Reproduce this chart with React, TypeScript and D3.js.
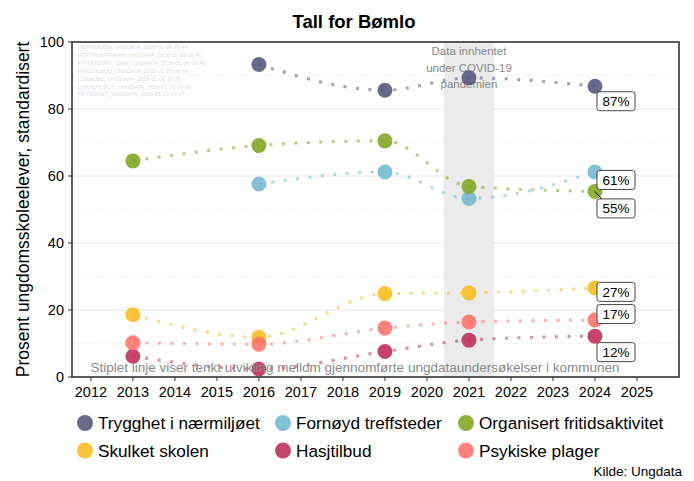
import React from 'react';
import * as d3 from 'd3';

// data
const years = [2013, 2016, 2019, 2021, 2024];
const seriesNames = [
  'Trygghet i nærmiljøet',
  'Fornøyd treffsteder',
  'Organisert fritidsaktivitet',
  'Skulket skolen',
  'Hasjtilbud',
  'Psykiske plager',
];
const trygghet = [null, 93.3, 85.6, 89.3, 86.8];
const fornoyd = [null, 57.6, 61.2, 53.3, 61.2];
const organisert = [64.5, 69.1, 70.5, 56.9, 55.4];
const skulket = [18.6, 11.9, 24.9, 25.1, 26.6];
const hasj = [6.2, 2.4, 7.6, 11.0, 12.2];
const psykiske = [10.2, 9.8, 14.6, 16.4, 17.0];
const seriesColors = ['#545479', '#74b7cf', '#7fa51f', '#f9bc1d', '#bd2c58', '#ff716a'];
const yTicks = [0, 20, 40, 60, 80, 100];
const xTicks = d3.range(2012, 2026);
const watermark = [
  'DEPRESJON_UNGDATA_2026-01-06-16-44',
  'FORTROLIGVENN_UNGDATA_2026-01-06-16-46',
  'FRITIDSORG_10aar_UNGDATA_2026-01-06-16-46',
  'HASJTILBUD_UNGDATA_2026-01-20-09-59',
  'LOKALMIL_UNGDATA_2026-01-06-16-50',
  'LOKALTILBUD_UNGDATA_2026-01-20-10-00',
  'TRYGGHET_UNGDATA_2026-01-20-10-07',
];
const covidBand = [2020.4, 2021.6];

// label nudges (px) for end labels, ggrepel-ish
const labelNudge = [15, 8, 17, 4, 16, -6];

const W = 694;
const H = 481;
const font = '"Liberation Sans", Arial, sans-serif';

const App = () => {
  const x = d3.scaleLinear().domain([2011.55, 2026]).range([72, 679]);
  const y = d3.scaleLinear().domain([0, 100]).range([377, 42]);

  const allSeries = [trygghet, fornoyd, organisert, skulket, hasj, psykiske];

  const line = d3.line<[number, number]>()
    .x(d => x(d[0]))
    .y(d => y(d[1]))
    .curve(d3.curveMonotoneX);

  const legendCols = [85, 283, 466];
  const legendRows = [423, 450.5];

  return (
    <svg width={W} height={H} style={{ position: 'absolute', left: 0, top: 0, fontFamily: font }}>
      <rect width={W} height={H} fill="#fff" />
      <text x={354} y={27.5} textAnchor="middle" fontSize={18.5} fontWeight="bold" fill="#000">Tall for Bømlo</text>

      {/* grid */}
      {d3.range(10, 100, 20).map(v => (
        <line key={'m' + v} x1={72} x2={679} y1={y(v)} y2={y(v)} stroke="#ececec" strokeWidth={0.7} strokeDasharray="2 1" />
      ))}
      {yTicks.slice(1, -1).map(v => (
        <line key={'g' + v} x1={72} x2={679} y1={y(v)} y2={y(v)} stroke="#e6e6e6" strokeWidth={1} />
      ))}

      {/* covid band */}
      <rect x={x(covidBand[0])} y={42} width={x(covidBand[1]) - x(covidBand[0])} height={335} fill="#ebebeb" />
      {['Data innhentet', 'under COVID-19', 'pandemien'].map((t, i) => (
        <text key={t} x={x(2021)} y={55 + i * 16.5} textAnchor="middle" fontSize={11.5} fill="#8a8a8a">{t}</text>
      ))}

      {watermark.map((t, i) => (
        <text key={t} x={78} y={49 + i * 7.9} fontSize={5.5} fill="#dcdcdc">{t}</text>
      ))}

      {/* dotted lines */}
      {allSeries.map((vals, si) => {
        const pts = years.map((yr, i) => [yr, vals[i]] as [number, number | null])
          .filter(p => p[1] != null) as [number, number][];
        return (
          <path key={'l' + si} d={line(pts) || ''} fill="none" stroke={seriesColors[si]}
            strokeOpacity={0.55} strokeWidth={3} strokeDasharray="3 9.5" />
        );
      })}

      {/* points */}
      {allSeries.map((vals, si) => years.map((yr, i) => vals[i] == null ? null : (
        <circle key={'p' + si + yr} cx={x(yr)} cy={y(vals[i] as number)} r={7.5}
          fill={seriesColors[si]} fillOpacity={0.88} />
      )))}

      <text x={355} y={371.5} textAnchor="middle" fontSize={13.5} fill="#8a8a8a">
        Stiplet linje viser tenkt utvikling mellom gjennomførte ungdataundersøkelser i kommunen
      </text>

      {/* end labels */}
      {allSeries.map((vals, si) => {
        const v = vals[vals.length - 1] as number;
        const px = x(2024);
        const py = y(v);
        const cx = px + 21;
        const cy = py + labelNudge[si];
        return (
          <g key={'lab' + si}>
            {si === 2 && (
              <line x1={px} y1={py} x2={cx - 14} y2={cy - 9} stroke="#000" strokeWidth={1} />
            )}
            <rect x={cx - 19} y={cy - 9.5} width={38} height={19} rx={2.5} fill="#fff" stroke="#333" strokeWidth={0.9} />
            <text x={cx} y={cy + 4.8} textAnchor="middle" fontSize={13.5} fill="#000">{Math.round(v)}%</text>
          </g>
        );
      })}

      {/* panel border */}
      <rect x={72} y={42} width={607} height={335} fill="none" stroke="#333" strokeWidth={1.6} />

      {/* y axis */}
      {yTicks.map(v => (
        <g key={'yt' + v}>
          <line x1={68} x2={72} y1={y(v)} y2={y(v)} stroke="#333" strokeWidth={1} />
          <text x={64} y={y(v) + 5.2} textAnchor="end" fontSize={14.5} fill="#000">{v}</text>
        </g>
      ))}
      <text transform={`translate(29,${y(50)}) rotate(-90)`} textAnchor="middle" fontSize={17.5} fill="#000">
        Prosent ungdomsskoleelever, standardisert
      </text>

      {/* x axis */}
      {xTicks.map(v => (
        <g key={'xt' + v}>
          <line x1={x(v)} x2={x(v)} y1={377} y2={381} stroke="#333" strokeWidth={1} />
          <text x={x(v)} y={396.5} textAnchor="middle" fontSize={14.5} fill="#000">{v}</text>
        </g>
      ))}

      {/* legend */}
      {seriesNames.map((n, i) => {
        const cx = legendCols[i % 3];
        const cy = legendRows[Math.floor(i / 3)];
        return (
          <g key={n}>
            <circle cx={cx} cy={cy} r={8} fill={seriesColors[i]} fillOpacity={0.88} />
            <text x={cx + 13} y={cy + 6.2} fontSize={17.2} fill="#000">{n}</text>
          </g>
        );
      })}

      <text x={682} y={476} textAnchor="end" fontSize={13.5} fill="#000">Kilde: Ungdata</text>
    </svg>
  );
};

export default App;
